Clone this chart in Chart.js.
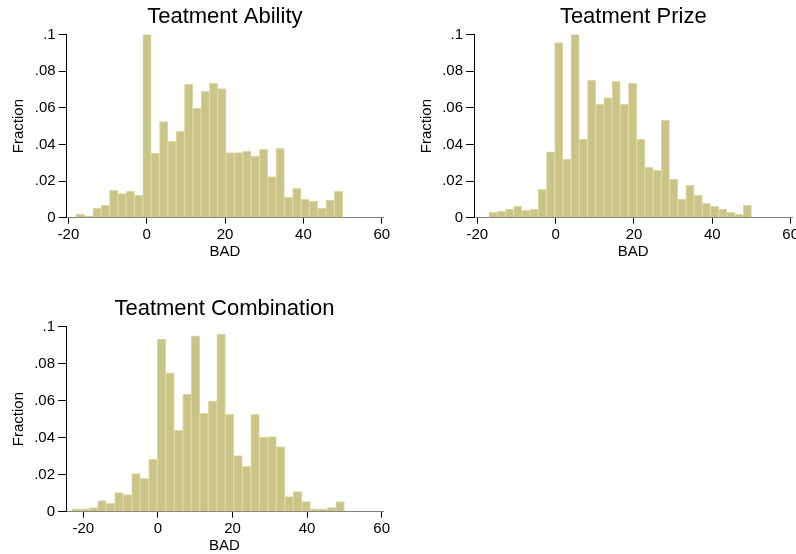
<!DOCTYPE html>
<html><head><meta charset="utf-8">
<script src="https://cdn.jsdelivr.net/npm/chart.js@4/dist/chart.umd.min.js"></script>
<style>
html,body{margin:0;padding:0;background:#fff;overflow:hidden;width:796px;height:554px;position:relative}
canvas{position:absolute}
</style></head><body>
<canvas id="c1" width="398" height="262" style="left:0;top:0"></canvas>
<canvas id="c2" width="400" height="262" style="left:408px;top:0"></canvas>
<canvas id="c3" width="398" height="264" style="left:0;top:292px"></canvas>
<script>
// ---- data ----
const panelTitles = ["Teatment Ability", "Teatment Prize", "Teatment Combination"];
const xTickValues = [-20, 0, 20, 40, 60];
const yTickValues = [0, 0.02, 0.04, 0.06, 0.08, 0.1];
const yTickLabels = ["0", ".02", ".04", ".06", ".08", ".1"];
const xAxisLabel = "BAD";
const yAxisLabel = "Fraction";

// bin definitions (start of first bin, bin width) for each panel
const abilityBinStart = -18, abilityBinWidth = 2.125;
const prizeBinStart = -17, prizeBinWidth = 2.09375;
const comboBinStart = -23, comboBinWidth = 2.28125;

const abilityValues = [0.0018,0.0007,0.0051,0.0067,0.0149,0.0131,0.0144,0.0122,0.1,0.0351,0.0525,0.0416,0.0471,0.0727,0.0598,0.0689,0.0733,0.0705,0.0355,0.0355,0.0362,0.0336,0.0373,0.0225,0.0378,0.0111,0.0160,0.0100,0.0089,0.0051,0.0096,0.0144];
const prizeValues = [0.0029,0.0035,0.0047,0.0062,0.0040,0.0047,0.0155,0.0360,0.0956,0.0318,0.1,0.0427,0.0749,0.0618,0.0656,0.0744,0.0618,0.0733,0.0427,0.0275,0.0258,0.0531,0.0209,0.0102,0.0176,0.0122,0.0078,0.0062,0.0047,0.0029,0.0018,0.0067];
const comboValues = [0.0016,0.0016,0.0022,0.0060,0.0045,0.0103,0.0092,0.0206,0.0180,0.0282,0.0931,0.0749,0.0440,0.0635,0.0949,0.0531,0.0597,0.0958,0.0525,0.0303,0.0245,0.0525,0.0401,0.0406,0.0352,0.0081,0.0108,0.0054,0.0016,0.0016,0.0022,0.0054];

// ---- style ----
const FONT = "'Liberation Sans', Arial, Helvetica, sans-serif";
const BAR_FILL = "#cbc487";
const BAR_EDGE = "#dcd8a8";

function makePanel(id, title, binStart, binWidth, values, xMin, xMax, yAxisW, xAxisH, padRight) {
  const pts = values.map((v, i) => ({x: binStart + (i + 0.5) * binWidth, y: v}));
  const tickFont = {family: FONT, size: 15};
  return new Chart(document.getElementById(id), {
    type: 'bar',
    data: {datasets: [{data: pts, backgroundColor: BAR_FILL, borderColor: BAR_EDGE, borderWidth: 1,
      categoryPercentage: 1.0, barPercentage: 1.0}]},
    options: {
      responsive: false, animation: false, devicePixelRatio: 1,
      layout: {padding: {left: 0, right: padRight, top: 0, bottom: 0}},
      plugins: {
        legend: {display: false}, tooltip: {enabled: false},
        title: {display: true, text: title, fullSize: false, color: '#000',
          font: {family: FONT, size: 22, weight: 'normal'}, padding: {top: 4, bottom: 4}}
      },
      scales: {
        x: {type: 'linear', min: xMin, max: xMax, offset: false,
          afterFit: s => { s.height = xAxisH; },
          afterBuildTicks: s => { s.ticks = xTickValues.map(v => ({value: v})); },
          grid: {display: true, drawOnChartArea: false, drawTicks: true, tickLength: 6, color: '#000', offset: false},
          border: {display: true, color: '#808080', width: 1},
          ticks: {font: tickFont, color: '#000', padding: 2, maxRotation: 0, autoSkip: false, callback: v => String(v)},
          title: {display: true, text: xAxisLabel, font: tickFont, color: '#000', padding: {top: 0, bottom: 1}}
        },
        y: {type: 'linear', min: 0, max: 0.1,
          afterFit: s => { s.width = yAxisW; },
          afterBuildTicks: s => { s.ticks = yTickValues.map(v => ({value: v})); },
          grid: {display: true, drawOnChartArea: false, drawTicks: true, tickLength: 8, color: '#000'},
          border: {display: true, color: '#000', width: 1},
          ticks: {font: tickFont, color: '#000', padding: 3, callback: v => yTickLabels[yTickValues.indexOf(v)]},
          title: {display: true, text: yAxisLabel, font: tickFont, color: '#000', padding: {top: 10, bottom: 0}}
        }
      }
    }
  });
}

makePanel('c1', panelTitles[0], abilityBinStart, abilityBinWidth, abilityValues, -20.43, 60.3, 66.7, 44.3, 15);
makePanel('c2', panelTitles[1], prizeBinStart, prizeBinWidth, prizeValues, -20.84, 60.46, 66, 44.3, 15.5);
makePanel('c3', panelTitles[2], comboBinStart, comboBinWidth, comboValues, -24.65, 60.35, 66, 44.3, 15);
</script>
</body></html>
